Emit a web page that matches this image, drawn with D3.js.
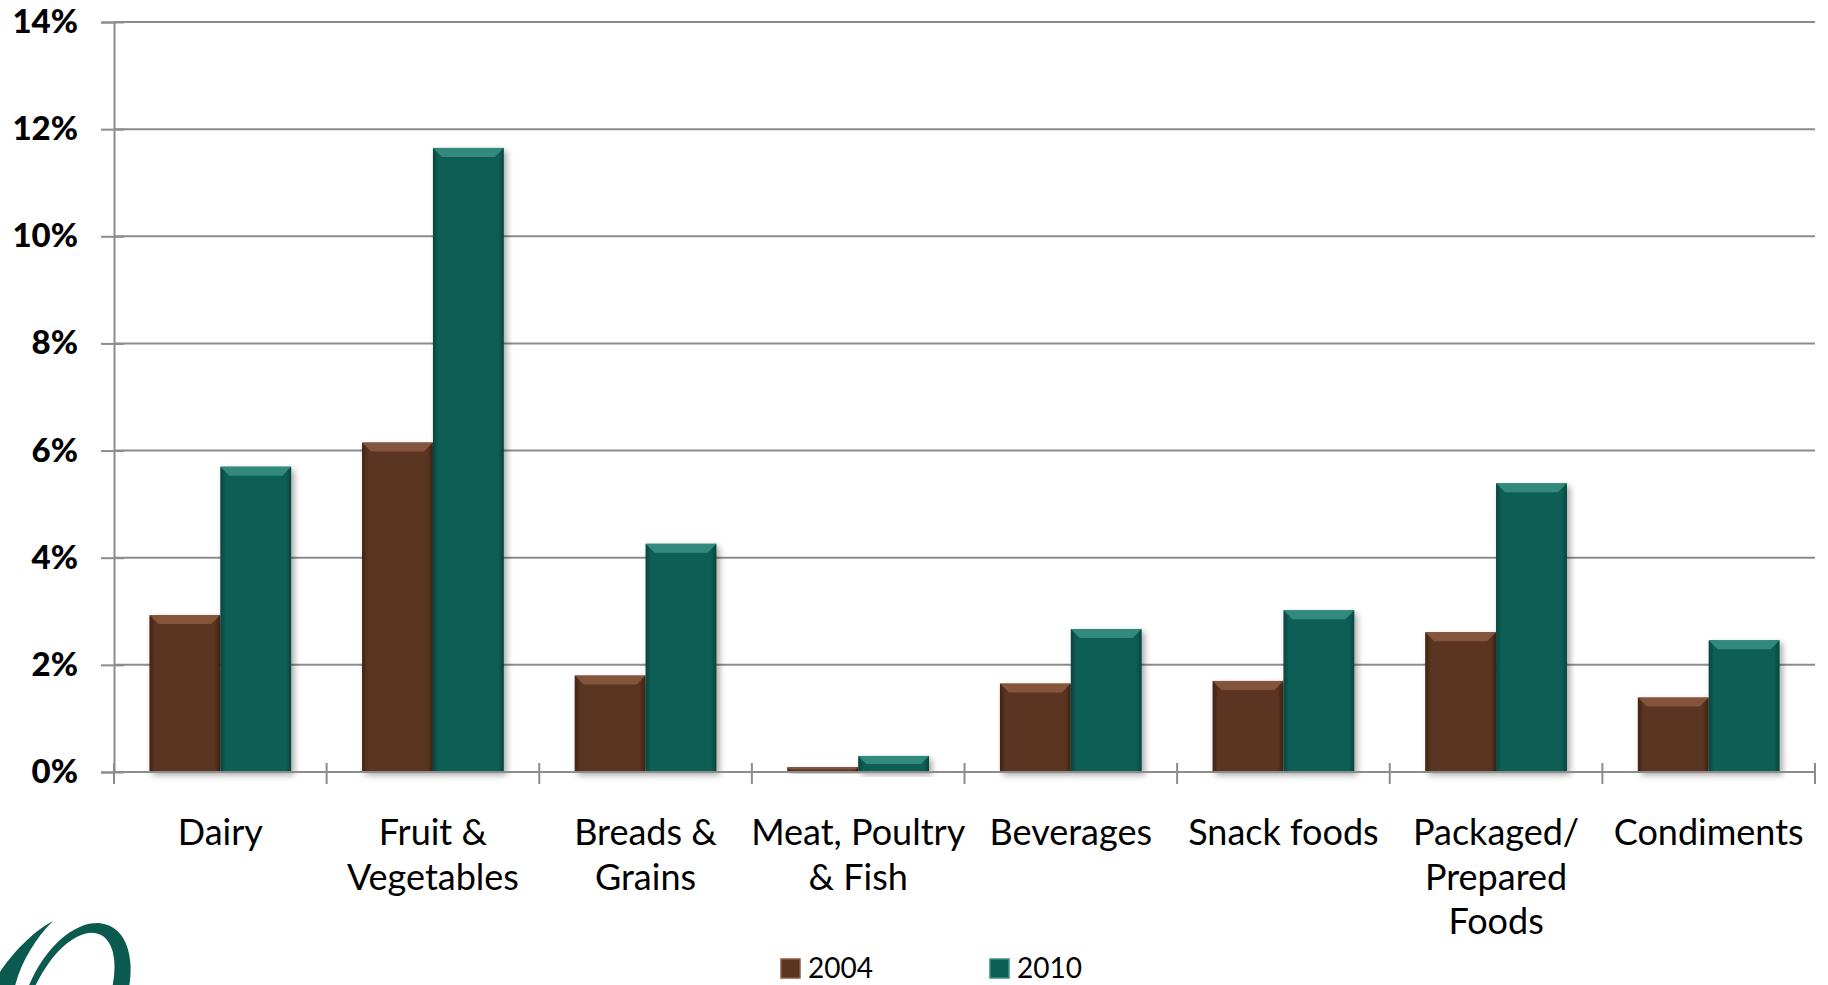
<!DOCTYPE html>
<html>
<head>
<meta charset="utf-8">
<script src="https://cdn.jsdelivr.net/npm/d3@7"></script>
<style>
  html, body { margin: 0; padding: 0; background: #fff; }
  svg { display: block; font-family: Lato, "Open Sans", sans-serif; }
</style>
</head>
<body>
<svg width="1828" height="985"></svg>
<script>
  // data
  const categories = [
    ['Dairy'],
    ['Fruit &', 'Vegetables'],
    ['Breads &', 'Grains'],
    ['Meat, Poultry', '& Fish'],
    ['Beverages'],
    ['Snack foods'],
    ['Packaged/', 'Prepared', 'Foods'],
    ['Condiments']
  ];
  const years = ['2004', '2010'];
  const values2004 = [2.93, 6.15, 1.80, 0.09, 1.65, 1.70, 2.61, 1.39];
  const values2010 = [5.70, 11.65, 4.26, 0.30, 2.67, 3.02, 5.39, 2.46];
  const yTicks = [0, 2, 4, 6, 8, 10, 12, 14];

  const colors = {
    '2004': { main: '#5a3420', edge: '#3f2314', top: '#8d5b40' },
    '2010': { main: '#0a5f55', edge: '#06443d', top: '#3a9186' }
  };

  const svg = d3.select('svg');
  const plotLeft = 114, plotRight = 1815, plotTop = 22, plotBottom = 772;

  const keys = categories.map(c => c.join(' '));
  const x0 = d3.scaleBand().domain(keys).range([plotLeft, plotRight])
    .paddingInner(1 / 3).paddingOuter(1 / 6);
  const x1 = d3.scaleBand().domain(years).range([0, x0.bandwidth()]);
  const y = d3.scaleLinear().domain([0, 14]).range([plotBottom, plotTop]);

  const defs = svg.append('defs');
  years.forEach(yr => {
    const c = colors[yr];
    const gr = defs.append('linearGradient').attr('id', 'g' + yr)
      .attr('x1', 0).attr('x2', 1).attr('y1', 0).attr('y2', 0);
    gr.append('stop').attr('offset', 0).attr('stop-color', c.edge);
    gr.append('stop').attr('offset', 0.08).attr('stop-color', c.main);
    gr.append('stop').attr('offset', 0.92).attr('stop-color', c.main);
    gr.append('stop').attr('offset', 1).attr('stop-color', c.edge);
  });
  const f = defs.append('filter').attr('id', 'shadow')
    .attr('x', '-20%').attr('y', '-20%').attr('width', '150%').attr('height', '150%');
  f.append('feDropShadow').attr('dx', 3).attr('dy', 3).attr('stdDeviation', 3)
    .attr('flood-color', '#000').attr('flood-opacity', 0.35);

  // gridlines
  svg.append('g').selectAll('line').data(yTicks.slice(1)).join('line')
    .attr('x1', plotLeft).attr('x2', plotRight)
    .attr('y1', d => y(d)).attr('y2', d => y(d))
    .attr('stroke', '#8c8c8c').attr('stroke-width', 2);

  // y axis
  const yAxis = svg.append('g').attr('transform', `translate(${plotLeft},0)`)
    .call(d3.axisLeft(y).tickValues(yTicks).tickSize(13).tickPadding(22)
      .tickFormat(d => d + '%'));
  yAxis.select('.domain').attr('stroke', '#8c8c8c').attr('stroke-width', 2);
  yAxis.selectAll('.tick line').attr('stroke', '#8c8c8c').attr('stroke-width', 2)
    .attr('x2', -13).attr('x1', 10);
  yAxis.selectAll('.tick text').attr('font-size', 33).attr('font-weight', 900)
    .attr('fill', '#000').attr('font-family', 'Lato, sans-serif').attr('x', -36);

  // bars
  const rows = keys.map((k, i) => ({ key: k, vals: [
    { yr: '2004', v: values2004[i] }, { yr: '2010', v: values2010[i] }] }));

  const groups = svg.append('g').selectAll('g').data(rows).join('g')
    .attr('transform', d => `translate(${x0(d.key)},0)`);
  const bar = groups.selectAll('g').data(d => d.vals).join('g');
  bar.append('rect')
    .attr('x', d => x1(d.yr)).attr('y', d => y(d.v))
    .attr('width', x1.bandwidth()).attr('height', d => y(0) - y(d.v))
    .attr('fill', d => `url(#g${d.yr})`).attr('filter', 'url(#shadow)');
  bar.append('path')
    .attr('d', d => {
      const x = x1(d.yr), w = x1.bandwidth(), t = y(d.v);
      const h = Math.min(9, (y(0) - t) / 2), s = Math.min(9, h);
      return `M${x},${t}L${x + w},${t}L${x + w - s},${t + h}L${x + s},${t + h}Z`;
    })
    .attr('fill', d => colors[d.yr].top).attr('opacity', 0.85);

  // x axis
  svg.append('line').attr('x1', plotLeft).attr('x2', plotRight)
    .attr('y1', plotBottom).attr('y2', plotBottom)
    .attr('stroke', '#8c8c8c').attr('stroke-width', 2);
  const step = x0.step();
  svg.append('g').selectAll('line').data(d3.range(keys.length + 1)).join('line')
    .attr('x1', i => plotLeft + i * step).attr('x2', i => plotLeft + i * step)
    .attr('y1', plotBottom - 9).attr('y2', plotBottom + 12)
    .attr('stroke', '#8c8c8c').attr('stroke-width', 2);

  svg.append('g').selectAll('text').data(categories).join('text')
    .attr('x', (d, i) => x0(keys[i]) + x0.bandwidth() / 2)
    .attr('y', 845)
    .attr('text-anchor', 'middle').attr('font-size', 36).attr('fill', '#000')
    .selectAll('tspan').data(d => d).join('tspan')
    .attr('x', function() { return this.parentNode.getAttribute('x'); })
    .attr('dy', (d, i) => i ? 44.5 : 0)
    .text(d => d);

  // legend
  const legend = svg.append('g');
  const lx = [781, 990];
  years.forEach((yr, i) => {
    legend.append('rect').attr('x', lx[i]).attr('y', 959).attr('width', 19).attr('height', 19)
      .attr('fill', colors[yr].main).attr('stroke', colors[yr].top).attr('stroke-width', 1.5);
    legend.append('text').attr('x', lx[i] + 27).attr('y', 978)
      .attr('font-size', 28).attr('fill', '#000').text(yr);
  });

  // logo (cropped at bottom left)
  const logo = svg.append('g').attr('fill', '#0a5a50');
  const ellipsePath = (cx, cy, rx, ry) =>
    `M${cx - rx},${cy}a${rx},${ry} 0 1,0 ${2 * rx},0a${rx},${ry} 0 1,0 ${-2 * rx},0Z`;
  logo.append('path')
    .attr('fill-rule', 'evenodd')
    .attr('transform', 'rotate(25 75 1000)')
    .attr('d', ellipsePath(75, 1000, 48, 82) + ellipsePath(70, 1005, 37, 75));
  logo.append('path')
    .attr('d', 'M53,921 C32,932 12,954 0,972 L0,990 L14,990 C20,964 34,940 53,921 Z');
</script>
</body>
</html>
